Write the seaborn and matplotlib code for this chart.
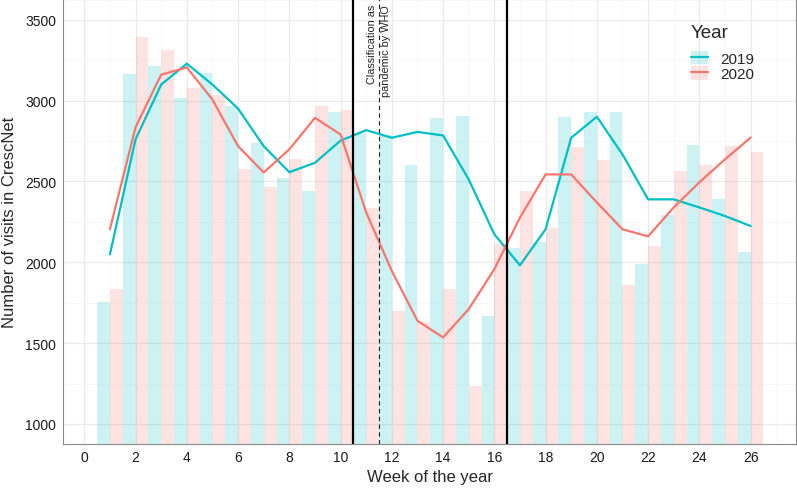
import pandas as pd
import seaborn as sns
import matplotlib.pyplot as plt
from matplotlib.patches import Patch, Rectangle
from matplotlib.lines import Line2D
from matplotlib.ticker import MultipleLocator

# weekly visit counts
weeks = list(range(1, 27))
visits_2019 = [1753, 3162, 3212, 3017, 3173, 2965, 2735, 2519, 2440, 2932,
               2800, 2790, 2600, 2889, 2907, 1667, 2090, 2125, 2899, 2928,
               2930, 1990, 2292, 2726, 2389, 2066]
visits_2020 = [1837, 3395, 3315, 3080, 3035, 2578, 2465, 2638, 2969, 2944,
               2338, 1700, 1632, 1835, 1233, 2111, 2440, 2210, 2712, 2630,
               1860, 2101, 2564, 2599, 2719, 2679]

# smoothed trend lines, also
trend_2019 = [2049, 2760, 3099, 3228, 3099, 2950, 2718, 2557, 2615, 2752,
              2817, 2770, 2806, 2784, 2512, 2173, 1981, 2204, 2770, 2900,
              2667, 2389, 2389, 2339, 2286, 2224]
trend_2020 = [2204, 2835, 3160, 3205, 3006, 2718, 2555, 2698, 2893, 2790,
              2308, 1946, 1638, 1535, 1710, 1957, 2276, 2543, 2543, 2370,
              2204, 2160, 2339, 2494, 2636, 2771]

years = ['2019', '2020']
colors = {'2019': '#00BFC4', '2020': '#F8766D'}

bars = pd.DataFrame({
    'Week': weeks * 2,
    'Visits': visits_2019 + visits_2020,
    'Year': ['2019'] * len(weeks) + ['2020'] * len(weeks),
})
trend = pd.DataFrame({
    'Week': weeks * 2,
    'Visits': trend_2019 + trend_2020,
    'Year': ['2019'] * len(weeks) + ['2020'] * len(weeks),
})

sns.set_style('white')
plt.rcParams['font.family'] = ['Liberation Sans', 'DejaVu Sans']

fig = plt.figure(figsize=(7.97, 4.89), dpi=100)
ax = fig.add_axes([0.0794, 0.091, 0.9193, 0.909])

# grid (theme_bw look)
ax.set_axisbelow(True)
ax.xaxis.set_major_locator(MultipleLocator(2))
ax.xaxis.set_minor_locator(MultipleLocator(1))
ax.yaxis.set_major_locator(MultipleLocator(500))
ax.yaxis.set_minor_locator(MultipleLocator(250))
ax.grid(which='major', color='#EBEBEB', linewidth=0.9)
ax.grid(which='minor', color='#F5F5F5', linewidth=0.5)

sns.barplot(data=bars, x='Week', y='Visits', hue='Year', hue_order=years,
            palette=colors, native_scale=True, width=1, errorbar=None,
            saturation=1, alpha=0.2, linewidth=0, legend=False, ax=ax)

sns.lineplot(data=trend, x='Week', y='Visits', hue='Year', hue_order=years,
             palette=colors, linewidth=1.6, legend=False, ax=ax)

# lockdown window and WHO pandemic classification
ax.add_patch(Rectangle((10.5, 0), 6, 5000, fill=False, edgecolor='black',
                       linewidth=1.6, zorder=5))
ax.axvline(11.5, color='#222222', linestyle=(0, (4, 3)), linewidth=0.8, zorder=5)
ax.text(11.5, 3598, 'Classification as\npandemic by WHO', rotation=90,
        ha='center', va='top', multialignment='right', fontsize=7.8,
        color='#222222', linespacing=1.5)

ax.set_xlim(-0.82, 27.77)
ax.set_ylim(879, 3628)
ax.set_xticks(range(0, 27, 2))
ax.set_yticks(range(1000, 3501, 500))

for side in ax.spines.values():
    side.set_visible(True)
    side.set_color('#8A8A8A')
    side.set_linewidth(0.8)
ax.tick_params(which='major', length=3, width=0.7, color='#555555',
               labelsize=10, labelcolor='#1A1A1A', pad=2)
ax.tick_params(which='minor', length=0)

ax.set_xlabel('Week of the year', fontsize=12, labelpad=3)
ax.set_ylabel('Number of visits in CrescNet', fontsize=12, labelpad=6)

handles = [(Patch(facecolor=colors[y], alpha=0.2, linewidth=0),
            Line2D([], [], color=colors[y], linewidth=1.6)) for y in years]
leg = ax.legend(handles, years, title='Year', loc='upper left',
                bbox_to_anchor=(0.838, 0.975), frameon=False, fontsize=11,
                title_fontsize=13.5, handlelength=1.1, handleheight=1.0,
                labelspacing=0.05, handletextpad=0.8)
leg._legend_box.align = 'left'
leg._legend_box.sep = 7

fig.savefig('out.png', dpi=100)
